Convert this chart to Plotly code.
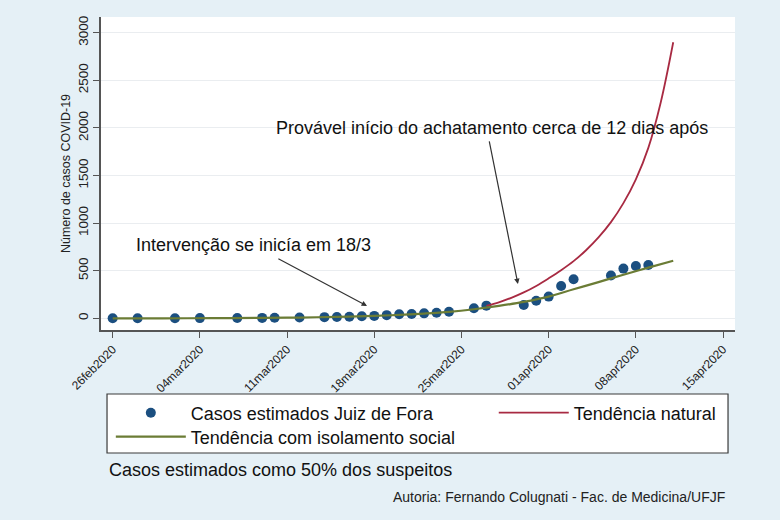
import plotly.graph_objects as go

# ---------------- data ----------------
obs_dates = ["2020-02-26", "2020-02-28", "2020-03-02", "2020-03-04", "2020-03-07",
             "2020-03-09", "2020-03-10", "2020-03-12", "2020-03-14", "2020-03-15",
             "2020-03-16", "2020-03-17", "2020-03-18", "2020-03-19", "2020-03-20",
             "2020-03-21", "2020-03-22", "2020-03-23", "2020-03-24", "2020-03-26",
             "2020-03-27", "2020-03-30", "2020-03-31", "2020-04-01", "2020-04-02",
             "2020-04-03", "2020-04-06", "2020-04-07", "2020-04-08", "2020-04-09"]
obs_cases = [1, 1, 1, 2, 3, 4, 5, 8, 12, 14, 17, 22, 25, 33, 42,
             45, 52, 58, 68, 105, 133, 140, 185, 228, 340, 410, 450, 522, 550, 560]

natural_dates = ["2020-03-27", "2020-03-28", "2020-03-29", "2020-03-30", "2020-03-31",
                 "2020-04-01", "2020-04-02", "2020-04-03", "2020-04-04", "2020-04-05",
                 "2020-04-06", "2020-04-07", "2020-04-08", "2020-04-09", "2020-04-10",
                 "2020-04-11"]
natural_cases = [130, 168, 215, 272, 340, 420, 505, 600, 715, 850,
                 1010, 1210, 1460, 1790, 2270, 2900]

isol_dates = ["2020-02-26", "2020-03-01", "2020-03-05", "2020-03-09", "2020-03-12",
              "2020-03-15", "2020-03-18", "2020-03-20", "2020-03-22", "2020-03-24",
              "2020-03-26", "2020-03-28", "2020-03-30", "2020-04-01", "2020-04-03",
              "2020-04-05", "2020-04-07", "2020-04-09", "2020-04-11"]
isol_cases = [0, 0, 1, 4, 8, 15, 25, 36, 50, 68, 95, 130, 172, 228, 305, 380, 458, 532, 605]

x_tick_vals = ["2020-02-26", "2020-03-04", "2020-03-11", "2020-03-18",
               "2020-03-25", "2020-04-01", "2020-04-08", "2020-04-15"]
x_tick_text = ["26feb2020", "04mar2020", "11mar2020", "18mar2020",
               "25mar2020", "01apr2020", "08apr2020", "15apr2020"]
y_tick_vals = [0, 500, 1000, 1500, 2000, 2500, 3000]

# ---------------- styling ----------------
FONT = "Liberation Sans, Arial, Helvetica, sans-serif"
BG = "#e5f0f6"
NAVY = "#1b4f80"
RED = "#a82a42"
OLIVE = "#6b7c35"
AX = "#555555"

fig = go.Figure()
fig.add_trace(go.Scatter(
    x=obs_dates, y=obs_cases, mode="markers", name="Casos estimados Juiz de Fora",
    marker=dict(color=NAVY, size=10, line=dict(width=0)), legend="legend"))
fig.add_trace(go.Scatter(
    x=natural_dates, y=natural_cases, mode="lines", name="Tendência natural",
    line=dict(color=RED, width=1.8, shape="spline"), legend="legend2"))
fig.add_trace(go.Scatter(
    x=isol_dates, y=isol_cases, mode="lines", name="Tendência com isolamento social",
    line=dict(color=OLIVE, width=2.2, shape="spline"), legend="legend3"))

leg_common = dict(xanchor="left", yanchor="middle", bgcolor="rgba(0,0,0,0)",
                  borderwidth=0, itemwidth=70, orientation="v",
                  font=dict(family=FONT, size=18, color="#111111"))

fig.update_layout(
    width=780, height=520,
    paper_bgcolor=BG, plot_bgcolor="white",
    margin=dict(l=101, r=45, t=17, b=190, autoexpand=False),
    font=dict(family=FONT, color="#222222"),
    showlegend=True,
    legend=dict(x=0.0155, y=-0.2652, **leg_common),
    legend2=dict(x=0.6195, y=-0.2652, **leg_common),
    legend3=dict(x=0.0155, y=-0.3419, **leg_common),
    xaxis=dict(
        type="date", range=["2020-02-25 01:30", "2020-04-15 23:00"],
        tickvals=x_tick_vals, ticktext=x_tick_text, tickangle=-45,
        tickfont=dict(size=12, color="#222222"),
        ticks="outside", ticklen=6, tickwidth=1.3, tickcolor=AX,
        showline=True, linecolor=AX, linewidth=1.5, showgrid=False,
        zeroline=False, fixedrange=True),
    yaxis=dict(
        range=[-123, 3165], tickvals=y_tick_vals, tickangle=-90,
        tickfont=dict(size=13.5, color="#222222"),
        ticks="outside", ticklen=6, tickwidth=1.3, tickcolor=AX,
        showline=True, linecolor=AX, linewidth=1.5,
        showgrid=True, gridcolor="#eaedf0", gridwidth=1.2, zeroline=False,
        title=dict(text="Número de casos COVID-19", standoff=2,
                   font=dict(size=12.5, color="#222222")),
        fixedrange=True),
)

# legend frame
fig.add_shape(type="rect", xref="paper", yref="paper",
              x0=0.0095, x1=0.989, y0=-0.393, y1=-0.2045,
              fillcolor="white", line=dict(color="#3a3a3a", width=1.2), layer="below")

# annotations
fig.add_annotation(x="2020-03-08 08:00", y=770, xref="x", yref="y",
                   text="Intervenção se inicía em 18/3", showarrow=False,
                   font=dict(size=18, color="#111111"))
fig.add_annotation(x="2020-03-17 10:00", y=130, xref="x", yref="y",
                   ax="2020-03-10 04:20", ay=633, axref="x", ayref="y",
                   text="", showarrow=True, arrowhead=2, arrowsize=0.9,
                   arrowwidth=1.2, arrowcolor="#333333", standoff=0, startstandoff=0)
fig.add_annotation(x="2020-03-27 10:00", y=1999, xref="x", yref="y",
                   text="Provável início do achatamento cerca de 12 dias após",
                   showarrow=False, font=dict(size=18, color="#111111"))
fig.add_annotation(x="2020-03-29 12:45", y=360, xref="x", yref="y",
                   ax="2020-03-27 05:00", ay=1873, axref="x", ayref="y",
                   text="", showarrow=True, arrowhead=2, arrowsize=0.9,
                   arrowwidth=1.2, arrowcolor="#333333", standoff=0, startstandoff=0)
fig.add_annotation(x=0.0095, y=-0.447, xref="paper", yref="paper",
                   xanchor="left", yanchor="middle", showarrow=False,
                   text="Casos estimados como 50% dos suspeitos",
                   font=dict(size=18, color="#111111"))
fig.add_annotation(x=0.987, y=-0.5335, xref="paper", yref="paper",
                   xanchor="right", yanchor="middle", showarrow=False,
                   text="Autoria: Fernando Colugnati - Fac. de Medicina/UFJF",
                   font=dict(size=14, color="#222222"))

fig.write_html("out.html", config={"displayModeBar": False},
               post_script="document.body.style.margin='0';document.body.style.overflow='hidden';")
